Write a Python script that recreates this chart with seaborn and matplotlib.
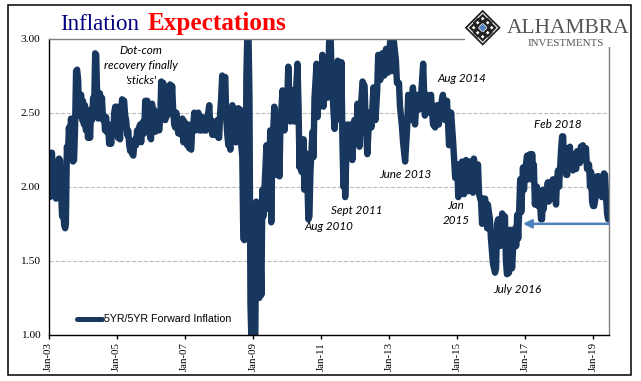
import numpy as np
import pandas as pd
import matplotlib
matplotlib.use("Agg")
import matplotlib.pyplot as plt
import seaborn as sns
from matplotlib.patches import Polygon, Rectangle

# 5YR/5YR forward inflation
years_03_05 = [2003.01, 2003.04, 2003.07, 2003.10, 2003.13, 2003.16, 2003.19, 2003.22, 2003.25, 2003.28, 2003.31, 2003.34,
               2003.37, 2003.40, 2003.43, 2003.46, 2003.49, 2003.51, 2003.54, 2003.57, 2003.60, 2003.63, 2003.66, 2003.69,
               2003.72, 2003.75, 2003.78, 2003.81, 2003.84, 2003.87, 2003.90, 2003.93, 2003.96, 2003.99, 2004.01, 2004.04,
               2004.07, 2004.10, 2004.13, 2004.16, 2004.19, 2004.22, 2004.25, 2004.28, 2004.31, 2004.34, 2004.37, 2004.40,
               2004.43, 2004.46, 2004.49, 2004.51, 2004.54, 2004.57, 2004.60, 2004.63, 2004.66, 2004.69, 2004.72, 2004.75,
               2004.78, 2004.81, 2004.84, 2004.87, 2004.90, 2004.93, 2004.96, 2004.99, 2005.01]
vals_03_05 = [2.05, 1.93, 2.20, 2.23, 2.10, 2.05, 1.95, 1.92, 2.08, 2.17, 2.19, 2.18,
              1.95, 1.80, 1.85, 1.74, 1.72, 1.75, 2.27, 2.22, 2.40, 2.28, 2.46, 2.36,
              2.17, 2.18, 2.40, 2.78, 2.79, 2.72, 2.48, 2.62, 2.62, 2.45, 2.58, 2.42,
              2.55, 2.38, 2.52, 2.33, 2.48, 2.33, 2.52, 2.45, 2.60, 2.52, 2.90, 2.89,
              2.60, 2.46, 2.60, 2.63, 2.50, 2.60, 2.45, 2.48, 2.38, 2.47, 2.37, 2.42,
              2.29, 2.38, 2.29, 2.42, 2.35, 2.50, 2.54, 2.42, 2.54]

years_05_06 = [2005.04, 2005.07, 2005.10, 2005.13, 2005.16, 2005.22, 2005.25, 2005.28, 2005.31, 2005.34, 2005.37, 2005.40,
               2005.43, 2005.46, 2005.49, 2005.51, 2005.54, 2005.57, 2005.60, 2005.63, 2005.66, 2005.69, 2005.72, 2005.75,
               2005.78, 2005.81, 2005.84, 2005.87, 2005.90, 2005.93, 2005.96, 2005.99, 2006.01, 2006.04, 2006.07, 2006.10,
               2006.13, 2006.16, 2006.19, 2006.22, 2006.25, 2006.28, 2006.31, 2006.34, 2006.37, 2006.40, 2006.43, 2006.46,
               2006.49, 2006.51, 2006.54, 2006.57, 2006.60, 2006.63, 2006.66, 2006.69, 2006.72, 2006.75, 2006.78, 2006.81,
               2006.84, 2006.87, 2006.90, 2006.93, 2006.96, 2006.99]
vals_05_06 = [2.33, 2.45, 2.32, 2.50, 2.59, 2.58, 2.48, 2.45, 2.35, 2.38, 2.28, 2.24,
              2.30, 2.22, 2.21, 2.26, 2.32, 2.28, 2.38, 2.33, 2.40, 2.42, 2.30, 2.42,
              2.44, 2.36, 2.58, 2.47, 2.58, 2.38, 2.46, 2.33, 2.32, 2.56, 2.42, 2.52,
              2.37, 2.38, 2.46, 2.42, 2.38, 2.45, 2.71, 2.55, 2.70, 2.50, 2.45, 2.58,
              2.48, 2.60, 2.50, 2.69, 2.55, 2.68, 2.52, 2.42, 2.40, 2.50, 2.42, 2.36,
              2.45, 2.36, 2.35, 2.46, 2.30, 2.44]

years_07_08 = [2007.01, 2007.04, 2007.07, 2007.10, 2007.13, 2007.16, 2007.19, 2007.22, 2007.25, 2007.28, 2007.31, 2007.34,
               2007.37, 2007.40, 2007.43, 2007.46, 2007.49, 2007.51, 2007.54, 2007.57, 2007.60, 2007.63, 2007.66, 2007.69,
               2007.72, 2007.75, 2007.78, 2007.81, 2007.84, 2007.87, 2007.90, 2007.93, 2007.96, 2007.99, 2008.01, 2008.04,
               2008.07, 2008.10, 2008.13, 2008.16, 2008.19, 2008.22, 2008.25, 2008.28, 2008.31, 2008.34, 2008.37, 2008.40,
               2008.43, 2008.46, 2008.49, 2008.51, 2008.54, 2008.57, 2008.60, 2008.63, 2008.66]
vals_07_08 = [2.33, 2.42, 2.28, 2.42, 2.26, 2.26, 2.25, 2.40, 2.42, 2.50, 2.38, 2.48,
              2.40, 2.50, 2.38, 2.45, 2.38, 2.47, 2.42, 2.38, 2.45, 2.38, 2.47, 2.50,
              2.55, 2.40, 2.45, 2.35, 2.42, 2.38, 2.35, 2.35, 2.45, 2.33, 2.33, 2.50,
              2.60, 2.75, 2.60, 2.72, 2.74, 2.45, 2.35, 2.28, 2.30, 2.25, 2.50, 2.55,
              2.35, 2.45, 2.30, 2.30, 2.45, 2.53, 2.35, 2.52, 2.28]

years_09_11 = [2008.69, 2008.72, 2008.75, 2008.78, 2008.81, 2008.84, 2008.87, 2008.90, 2008.93, 2008.96, 2008.99, 2009.01,
               2009.04, 2009.07, 2009.10, 2009.13, 2009.16, 2009.19, 2009.22, 2009.25, 2009.28, 2009.31, 2009.34, 2009.40,
               2009.46, 2009.51, 2009.54, 2009.57, 2009.63, 2009.69, 2009.75, 2009.78, 2009.81, 2009.87, 2009.93, 2009.96,
               2009.99, 2010.04, 2010.10, 2010.16, 2010.22, 2010.28, 2010.31, 2010.34, 2010.37, 2010.40, 2010.43, 2010.49,
               2010.51, 2010.54, 2010.60, 2010.63, 2010.66, 2010.69, 2010.75, 2010.78, 2010.81, 2010.87, 2010.90, 2010.96,
               2011.01, 2011.04, 2011.07, 2011.13, 2011.19, 2011.25, 2011.28, 2011.31, 2011.37, 2011.40, 2011.46, 2011.49,
               2011.54, 2011.57, 2011.60, 2011.63, 2011.66, 2011.69, 2011.71]
vals_09_11 = [2.20, 1.65, 1.64, 1.66, 2.75, 3.05, 3.05, 2.60, 1.20, 0.95, 1.40, 0.95,
              1.10, 0.95, 1.90, 1.30, 1.88, 1.25, 1.60, 1.27, 1.98, 1.80, 1.98, 2.28,
              1.85, 2.38, 1.76, 2.25, 2.54, 2.08, 2.40, 2.07, 2.42, 2.65, 2.38, 2.62,
              2.45, 2.81, 2.44, 2.65, 2.44, 2.70, 2.83, 2.55, 2.13, 2.32, 2.10, 2.32,
              1.98, 2.23, 2.05, 1.78, 1.80, 2.10, 2.37, 2.20, 2.60, 2.83, 2.47, 2.80,
              2.55, 2.89, 2.54, 2.75, 2.60, 3.05, 3.05, 2.75, 2.50, 2.39, 2.70, 2.85,
              2.80, 2.45, 2.84, 2.30, 2.00, 2.40, 1.93]

years_12_14 = [2011.77, 2011.83, 2011.86, 2011.92, 2011.98, 2012.04, 2012.07, 2012.13, 2012.19, 2012.22, 2012.28, 2012.31,
               2012.36, 2012.42, 2012.48, 2012.54, 2012.60, 2012.65, 2012.68, 2012.74, 2012.80, 2012.86, 2012.91, 2012.97,
               2013.03, 2013.09, 2013.14, 2013.20, 2013.23, 2013.29, 2013.32, 2013.38, 2013.41, 2013.47, 2013.53, 2013.56,
               2013.61, 2013.70, 2013.76, 2013.82, 2013.88, 2013.94, 2014.00, 2014.05, 2014.11, 2014.17, 2014.23, 2014.29,
               2014.35, 2014.41, 2014.46, 2014.52, 2014.58, 2014.64, 2014.70, 2014.76, 2014.82, 2014.88, 2014.94]
vals_12_14 = [2.42, 2.25, 2.42, 2.18, 2.45, 2.30, 2.56, 2.27, 2.60, 2.71, 2.68, 2.45,
              2.22, 2.50, 2.40, 2.67, 2.45, 2.65, 2.89, 2.72, 2.90, 2.75, 2.93, 2.77,
              2.98, 2.78, 2.98, 2.85, 2.70, 2.70, 2.54, 2.40, 2.30, 2.17, 2.40, 2.62,
              2.45, 2.67, 2.42, 2.62, 2.52, 2.62, 2.83, 2.48, 2.62, 2.50, 2.62, 2.42,
              2.40, 2.55, 2.42, 2.55, 2.62, 2.45, 2.58, 2.28, 2.50, 2.30, 2.06]

years_15_16 = [2015.00, 2015.03, 2015.08, 2015.11, 2015.14, 2015.20, 2015.26, 2015.32, 2015.38, 2015.44, 2015.46, 2015.49,
               2015.55, 2015.61, 2015.64, 2015.70, 2015.73, 2015.76, 2015.82, 2015.88, 2015.90, 2015.96, 2015.99, 2016.05,
               2016.11, 2016.14, 2016.17, 2016.20, 2016.26, 2016.32, 2016.37, 2016.40, 2016.43, 2016.46, 2016.52, 2016.55,
               2016.61, 2016.64, 2016.70, 2016.73, 2016.76, 2016.79, 2016.85, 2016.88, 2016.93, 2016.96, 2016.99]
vals_15_16 = [2.15, 1.93, 2.15, 1.95, 2.17, 1.95, 2.18, 1.97, 2.17, 2.10, 1.96, 2.19,
              2.05, 2.15, 1.95, 1.90, 1.75, 1.92, 1.92, 1.72, 1.88, 1.78, 1.65, 1.48,
              1.42, 1.45, 1.75, 1.78, 1.60, 1.82, 1.62, 1.80, 1.50, 1.41, 1.42, 1.71,
              1.45, 1.58, 1.72, 1.60, 1.81, 1.65, 2.05, 1.83, 2.13, 1.98, 2.10]

years_17_19 = [2017.05, 2017.08, 2017.14, 2017.17, 2017.20, 2017.22, 2017.25, 2017.28, 2017.34, 2017.37, 2017.43, 2017.46,
               2017.49, 2017.52, 2017.54, 2017.57, 2017.60, 2017.66, 2017.69, 2017.75, 2017.78, 2017.81, 2017.87, 2017.90,
               2017.93, 2017.96, 2017.99, 2018.05, 2018.08, 2018.11, 2018.14, 2018.17, 2018.20, 2018.23, 2018.25, 2018.31,
               2018.34, 2018.37, 2018.40, 2018.46, 2018.49, 2018.52, 2018.55, 2018.60, 2018.63, 2018.69, 2018.72, 2018.78,
               2018.81, 2018.87, 2018.90, 2018.93, 2018.96, 2018.99, 2019.02, 2019.08, 2019.10, 2019.13, 2019.16, 2019.19,
               2019.22, 2019.25, 2019.28, 2019.31, 2019.34, 2019.37, 2019.40, 2019.43]
vals_17_19 = [2.21, 2.05, 2.22, 2.05, 2.22, 2.10, 2.15, 1.88, 2.00, 1.87, 1.90, 1.78,
              1.78, 1.98, 1.85, 1.98, 1.90, 2.03, 1.90, 2.03, 1.92, 2.05, 2.05, 1.88,
              2.05, 2.11, 2.00, 2.25, 2.34, 2.34, 2.12, 2.26, 2.08, 2.08, 2.25, 2.27,
              2.12, 2.22, 2.11, 2.20, 2.12, 2.24, 2.20, 2.16, 2.27, 2.28, 2.18, 2.26,
              2.12, 2.15, 2.00, 2.10, 1.90, 1.87, 1.87, 1.95, 2.07, 1.95, 2.07, 1.97,
              2.05, 1.93, 2.05, 2.09, 2.08, 1.93, 1.82, 1.78]

series_name = "5YR/5YR Forward Inflation"
tick_years = [2003, 2005, 2007, 2009, 2011, 2013, 2015, 2017, 2019]
tick_labels = ["Jan-03", "Jan-05", "Jan-07", "Jan-09", "Jan-11", "Jan-13", "Jan-15", "Jan-17", "Jan-19"]
y_ticks = [1.0, 1.5, 2.0, 2.5, 3.0]

note_texts = ["Dot-com\nrecovery finally\n'sticks'", "Aug 2010", "Sept 2011", "June 2013", "Aug 2014",
              "Feb 2018", "Jan\n2015", "July 2016"]
note_years = [2005.72, 2011.22, 2012.04, 2013.49, 2015.13, 2017.96, 2014.96, 2016.75]
note_vals = [2.82, 1.73, 1.84, 2.08, 2.73, 2.42, 1.82, 1.31]

df = pd.DataFrame({
    "year": years_03_05 + years_05_06 + years_07_08 + years_09_11 + years_12_14 + years_15_16 + years_17_19,
    "value": vals_03_05 + vals_05_06 + vals_07_08 + vals_09_11 + vals_12_14 + vals_15_16 + vals_17_19,
})

W, H = 641, 381
fig = plt.figure(figsize=(W / 100, H / 100), dpi=100)
ax = fig.add_axes([48.5 / W, 1 - 335 / H, 560.5 / W, 296.5 / H])

# thick line, the noise of the daily series fills out the band
sns.lineplot(data=df, x="year", y="value", color="#17375E", linewidth=4.6, estimator=None, sort=False,
             label=series_name, ax=ax, solid_capstyle="round", solid_joinstyle="round")

ax.set_xlim(2003, 2019.456)
ax.set_ylim(1, 3)
ax.set_xlabel("")
ax.set_ylabel("")
ax.set_xticks(tick_years)
ax.set_xticklabels(tick_labels, rotation=90, family="Liberation Serif", fontsize=7.8)
ax.set_yticks(y_ticks)
ax.set_yticklabels(["%.2f" % v for v in y_ticks], family="Liberation Serif", fontsize=8.2)
ax.tick_params(axis="y", length=0, pad=6)
ax.tick_params(axis="x", length=3, width=1, pad=2)
ax.grid(axis="y", color="#bdbdbd", linestyle="--", linewidth=0.8)
ax.grid(axis="x", visible=False)
ax.set_axisbelow(True)
ax.spines["left"].set_color("black")
ax.spines["bottom"].set_color("black")
ax.spines["top"].set_color("#808080")
ax.spines["right"].set_color("#808080")
for side in ["left", "bottom", "top", "right"]:
    ax.spines[side].set_linewidth(1.0)

leg = ax.legend(loc="lower left", bbox_to_anchor=(0.042, 0.018), frameon=False, handlelength=2.3, handletextpad=0.2,
                borderpad=0, prop={"family": "Liberation Sans", "size": 7.7})
leg.get_lines()[0].set_linewidth(3.6)

for txt, xv, yv in zip(note_texts, note_years, note_vals):
    ax.text(xv, yv, txt, ha="center", va="center", style="italic", family="Lato", fontsize=8.4, linespacing=1.45,
            color="black")

ax.annotate("", xy=(2016.93, 1.75), xytext=(2019.45, 1.75),
            arrowprops=dict(arrowstyle="-|>,head_length=0.5,head_width=0.25", color="#4F81BD", lw=1.8,
                            shrinkA=0, shrinkB=0))


def fx(px):
    return px / W


def fy(py):
    return 1 - py / H


def diamond(cx, cy, r, color):
    pts = [(fx(cx - r), fy(cy)), (fx(cx), fy(cy - r)), (fx(cx + r), fy(cy)), (fx(cx), fy(cy + r))]
    fig.add_artist(Polygon(pts, closed=True, transform=fig.transFigure, facecolor=color, edgecolor="none", zorder=6))


# white patch behind the logo hides the frame of the plot
fig.add_artist(Rectangle((fx(465), fy(47)), fx(150), 42 / H, transform=fig.transFigure, facecolor="white",
                         edgecolor="none", zorder=5))
diamond(482.7, 27.7, 18, "#222222")
diamond(482.7, 27.7, 15.5, "white")
for dx, dy in [(-9, 0), (9, 0), (0, -9), (0, 9), (-5, -5), (5, -5), (-5, 5), (5, 5)]:
    diamond(482.7 + dx, 27.7 + dy, 5, "#222222")
    diamond(482.7 + dx, 27.7 + dy, 1.8, "white")
diamond(482.7, 27.7, 4, "#4F81BD")

fig.text(fx(507), fy(33), "ALHAMBRA", family="Liberation Serif", fontsize=15.5, color="#555555", zorder=7)
fig.text(fx(528), fy(45.5), "INVESTMENTS", family="Liberation Serif", fontsize=7.9, color="#555555", zorder=7)

fig.text(fx(60), fy(30), "Inflation", family="Liberation Serif", fontsize=16.6, color="#000080")
fig.text(fx(148), fy(30), "Expectations", family="Liberation Serif", fontsize=18.2, weight="bold", color="#FF0000")

# outer frame of the picture
fig.add_artist(Rectangle((fx(7.5), fy(375)), fx(623), 370 / H, transform=fig.transFigure, fill=False,
                         edgecolor="black", linewidth=1.1, zorder=8))

fig.savefig("out.png", dpi=100)
